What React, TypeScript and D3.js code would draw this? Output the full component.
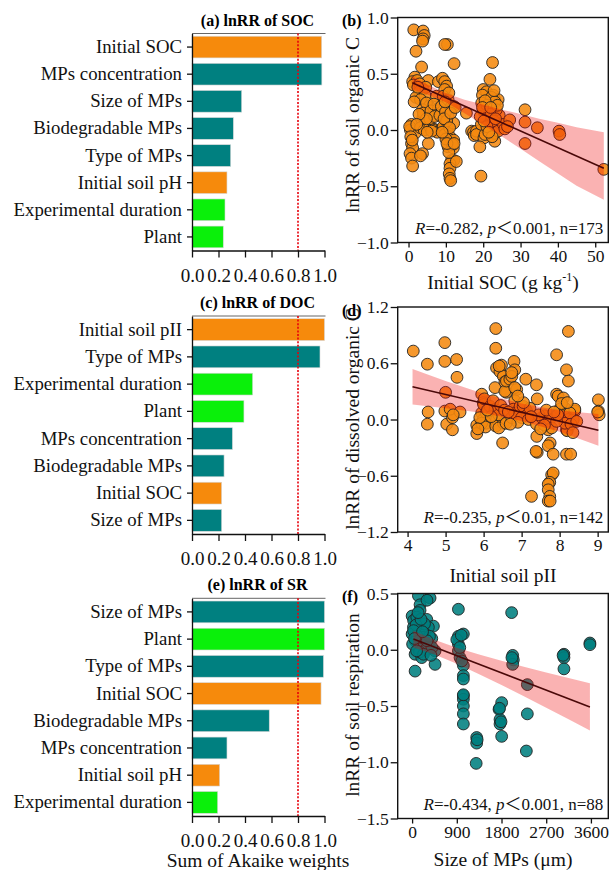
import React, { useEffect, useRef } from "react";
import * as d3 from "d3";

// ---- (a) (c) (e): sum of Akaike weights per factor ----
const socFactors = ["Initial SOC", "MPs concentration", "Size of MPs", "Biodegradable MPs", "Type of MPs", "Initial soil pH", "Experimental duration", "Plant"];
const socWeights = [0.979, 0.98, 0.375, 0.312, 0.292, 0.264, 0.249, 0.236];

const docFactors = ["Initial soil pII", "Type of MPs", "Experimental duration", "Plant", "MPs concentration", "Biodegradable MPs", "Initial SOC", "Size of MPs"];
const docWeights = [1.0, 0.966, 0.458, 0.392, 0.305, 0.242, 0.224, 0.224];

const srFactors = ["Size of MPs", "Plant", "Type of MPs", "Initial SOC", "Biodegradable MPs", "MPs concentration", "Initial soil pH", "Experimental duration"];
const srWeights = [1.0, 1.0, 0.992, 0.974, 0.583, 0.264, 0.209, 0.194];

const weightTicks = [0, 0.2, 0.4, 0.6, 0.8, 1.0];

// ---- (b) lnRR of SOC vs initial SOC (g/kg) ----
const socPoints: [number, number][] = [
  [1.4, 0.89], [3.9, 0.88], [4.2, 0.84], [3.9, 0.81], [3.75, 0.79], [2.0, 0.7], [3.5, 0.56],
  [1.7, 0.47], [1.1, 0.43], [2.3, 0.44], [5.3, 0.44], [1.3, 0.4], [3.0, 0.41], [3.9, 0.36], [2.9, 0.34], [4.6, 0.38],
  [2.0, 0.29], [4.4, 0.31], [3.2, 0.27], [5.5, 0.21], [3.75, 0.18], [4.8, 0.24], [3.9, 0.12], [3.5, 0.08], [4.4, 0.06], [4.0, 0.15],
  [0.8, 0.05], [0.5, 0.0], [1.7, -0.03], [0.3, 0.03], [3.2, 0.02], [4.2, 0.0],
  [0.8, -0.12], [1.1, -0.16], [0.4, -0.21], [0.8, -0.25], [1.1, -0.32], [3.75, -0.21], [3.2, -0.23], [5.3, -0.12], [0.6, -0.06],
  [5.7, 0.03], [6.6, 0.01], [7.3, 0.0], [5.7, 0.1], [6.0, 0.17], [8.0, 0.43], [7.5, 0.3], [8.0, 0.19], [7.0, 0.12], [8.4, 0.13],
  [8.4, 0.0], [6.8, 0.23], [7.7, -0.02], [8.8, 0.21], [6.2, -0.01],
  [10.4, 0.76], [9.7, 0.76], [12.2, 0.59], [9.1, 0.46], [9.7, 0.43], [10.2, 0.39], [9.7, 0.36], [9.3, 0.3], [10.6, 0.27], [11.5, 0.21],
  [12.1, 0.21], [10.6, 0.12], [9.9, 0.16], [10.4, 0.04], [10.4, 0.0], [9.3, 0.03], [9.7, -0.04], [11.1, -0.06], [12.1, 0.06], [11.5, -0.1],
  [12.1, -0.09], [10.6, -0.15], [12.0, -0.16], [11.8, -0.13], [11.5, -0.27], [12.1, -0.27], [11.1, -0.3], [11.1, -0.34], [10.9, -0.39],
  [11.1, -0.43], [11.3, -0.45], [10.2, 0.08], [10.8, 0.33], [9.5, 0.1], [11.0, 0.02], [10.0, -0.08], [10.8, -0.2],
  [15.5, 0.15], [16.9, -0.01], [17.4, -0.02], [17.6, -0.05],
  [22.5, 0.6], [21.8, 0.45], [20.0, 0.36], [20.9, 0.34], [22.7, 0.31], [19.8, 0.31], [23.1, 0.27], [24.0, 0.27], [19.6, 0.24], [22.2, 0.29],
  [23.1, 0.25], [21.3, 0.19], [20.2, 0.16], [22.5, 0.16], [23.1, 0.13], [24.3, 0.13], [20.0, 0.18], [21.3, 0.12], [20.9, 0.1], [22.2, 0.09],
  [23.6, 0.06], [21.6, 0.05], [19.6, 0.01], [22.7, 0.01], [18.2, -0.01], [18.2, -0.04], [20.2, -0.07], [23.1, -0.1], [19.1, -0.15],
  [19.4, -0.41], [19.5, 0.05], [21.0, 0.22], [24.5, 0.05], [23.5, 0.18], [22.0, 0.0], [23.0, -0.03], [20.5, -0.04], [21.8, 0.14],
  [22.8, 0.08], [19.2, 0.12], [24.0, -0.01], [21.0, 0.03], [20.5, 0.26], [23.8, 0.22], [22.4, -0.06],
  [25.4, 0.05], [25.8, 0.01], [27.1, 0.09], [26.5, 0.03], [31.2, 0.18], [31.2, 0.07], [31.2, -0.12], [34.5, 0.02], [40.3, -0.01],
  [40.5, -0.04], [52.3, -0.35],
  [2.5, 0.38], [1.5, 0.25], [4.8, 0.1], [2.8, 0.14], [5.0, -0.02], [1.0, -0.09], [2.2, 0.05],
  [9.8, 0.25], [11.3, 0.15], [10.3, -0.12], [12.5, 0.2], [12.2, -0.12], [12.8, -0.28], [9.0, -0.02],
  [19.8, 0.2], [22.0, 0.2], [23.3, 0.1], [21.5, -0.02], [20.2, 0.08], [22.9, 0.35],
];
const socLine: [number, number][] = [[1, 0.42], [52.3, -0.34]];
const socBandX = [1, 5, 10, 15, 20, 25, 30, 35, 40, 45, 52.3];
const socBandLo = [0.36, 0.315, 0.246, 0.15, 0.047, -0.058, -0.167, -0.277, -0.386, -0.496, -0.62];
const socBandHi = [0.48, 0.405, 0.326, 0.27, 0.227, 0.18, 0.143, 0.1, 0.064, 0.024, -0.02];

// ---- (d) lnRR of DOC vs initial soil pH ----
const docPoints: [number, number][] = [
  [4.15, 0.73], [4.52, 0.59], [4.54, 0.08], [4.52, -0.05], [4.98, 0.82], [4.98, 0.62], [5.29, 0.64], [5.3, 0.45], [5.0, 0.29],
  [4.98, 0.09], [5.03, -0.05], [5.18, -0.11], [5.18, 0.02], [5.12, 0.11], [5.38, 0.08], [5.2, 0.05],
  [5.82, -0.06], [5.82, -0.15], [5.95, 0.27], [5.99, 0.18], [5.95, 0.07], [5.99, 0.0], [6.0, 0.16], [6.07, 0.07], [6.07, -0.04],
  [5.95, -0.04], [6.02, 0.22], [6.05, -0.08], [5.9, 0.02],
  [6.32, 0.97], [6.32, 0.76], [6.34, 0.55], [6.43, 0.51], [6.47, 0.58], [6.52, 0.46], [6.41, 0.57], [6.3, 0.34], [6.56, 0.4],
  [6.6, 0.29], [6.56, 0.3], [6.6, 0.41], [6.17, 0.14], [6.3, 0.09], [6.34, 0.0], [6.32, -0.07], [6.52, -0.04], [6.5, -0.25],
  [6.3, 0.11], [6.4, 0.05], [6.4, -0.09], [6.59, -0.04], [6.25, 0.2], [6.45, 0.15], [6.2, 0.03], [6.55, 0.1],
  [6.69, 0.43], [6.8, 0.62], [6.82, 0.53], [6.74, 0.46], [6.74, 0.5], [6.87, 0.32], [6.82, 0.34], [6.82, 0.2], [6.78, 0.11],
  [6.74, 0.02], [6.82, 0.07], [6.96, 0.14], [7.09, 0.12], [7.13, 0.09], [7.04, 0.14], [7.15, 0.05], [7.22, 0.12], [7.11, 0.43],
  [7.0, 0.02], [6.9, -0.03], [7.05, 0.18], [6.7, -0.05], [7.18, 0.0],
  [7.39, 0.37], [7.41, 0.22], [7.39, -0.05], [7.4, -0.18], [7.41, -0.35], [7.38, -0.34], [7.26, -0.82], [7.53, 0.02], [7.61, 0.04],
  [7.74, 0.0], [7.7, -0.11], [7.75, -0.25], [7.7, -0.28], [7.83, -0.37], [7.79, -0.59], [7.83, -0.57], [7.74, -0.67], [7.7, -0.69],
  [7.7, -0.75], [7.74, -0.82], [7.7, -0.87], [7.75, -0.87], [7.79, -0.09], [7.6, -0.06], [7.45, 0.05], [7.65, 0.1], [7.5, -0.1],
  [7.92, 0.69], [8.23, 0.94], [8.18, 0.53], [8.23, 0.41], [7.92, 0.27], [7.96, 0.25], [8.1, 0.23], [8.14, 0.12], [8.0, 0.11],
  [8.1, 0.04], [8.23, 0.0], [8.4, 0.09], [8.36, 0.0], [8.4, 0.11], [8.18, -0.11], [8.2, -0.12], [8.14, -0.04], [8.18, -0.37],
  [8.29, -0.37], [8.27, 0.07], [7.92, -0.02], [8.3, -0.05], [8.05, 0.17], [8.35, -0.14], [7.95, 0.05], [8.2, 0.18],
  [9.02, 0.21], [9.02, 0.09], [9.04, 0.05], [9.0, 0.08],
  [6.1, 0.1], [6.65, 0.08], [7.25, 0.03], [7.85, 0.08], [6.9, 0.25], [5.85, -0.1], [8.45, -0.02],
];
const docLine: [number, number][] = [[4.13, 0.35], [9.02, -0.115]];
const docBandX = [4.13, 5, 6, 7, 8, 9.02];
const docBandLo = [0.16, 0.12, 0.07, -0.015, -0.13, -0.28];
const docBandHi = [0.54, 0.41, 0.275, 0.17, 0.095, 0.06];

// ---- (f) lnRR of soil respiration vs MP size (um) ----
const srPoints: [number, number][] = [
  [127, 0.48], [362, 0.46], [160, 0.4], [300, 0.44], [0, 0.3], [30, 0.26], [160, 0.35], [94, 0.29], [295, 0.27], [429, 0.21],
  [27, 0.2], [194, 0.2], [328, 0.2], [0, 0.14], [127, 0.15], [261, 0.14], [396, 0.1], [60, 0.08], [194, 0.08], [127, 0.01],
  [328, 0.04], [462, -0.01], [462, -0.13], [60, -0.04], [194, -0.07], [60, -0.19], [250, 0.23], [80, 0.22], [220, 0.11], [10, 0.05],
  [350, 0.12], [100, 0.12], [270, 0.0], [150, -0.02], [400, 0.02], [30, 0.17], [180, 0.27], [300, 0.08], [230, -0.04], [90, -0.01],
  [932, 0.36], [932, 0.12], [1032, 0.14], [932, 0.05], [932, -0.01], [965, -0.07], [1032, -0.14], [1032, -0.23], [1032, -0.26],
  [1032, -0.41], [1032, -0.44], [1032, -0.5], [1032, -0.57], [1032, -0.66], [900, 0.09], [960, 0.02], [1000, -0.1], [1032, -0.4], [990, 0.13],
  [1300, -0.78], [1300, -0.83], [1290, -1.01], [1310, -0.8],
  [1803, -0.47], [1750, -0.53], [1770, -0.62], [1770, -0.66], [1803, -0.77], [1790, -0.64], [1760, -0.52],
  [2004, 0.33], [2025, -0.05], [2038, -0.09], [2025, -0.13], [2010, -0.07],
  [2320, -0.31], [2320, -0.57], [2300, -0.9],
  [3057, -0.04], [3057, -0.07], [3057, -0.17], [3040, -0.05],
  [3580, 0.06], [3580, 0.045],
  [50, 0.1], [210, 0.16], [380, -0.05], [120, 0.33],
];
const srLine: [number, number][] = [[26, 0.095], [3580, -0.508]];
const srBandX = [26, 450, 900, 1350, 1800, 2250, 2700, 3150, 3580];
const srBandLo = [0.02, -0.042, -0.124, -0.217, -0.314, -0.414, -0.516, -0.618, -0.718];
const srBandHi = [0.17, 0.088, 0.018, -0.043, -0.098, -0.15, -0.202, -0.252, -0.298];

const FONT = "'Liberation Serif', 'Times New Roman', serif";
const ORANGE = "#F68A0C";
const TEAL = "#008080";
const GREEN = "#0AF00A";

const factorColor = (name: string) => {
  if (name.startsWith("Initial")) return ORANGE;
  if (name === "Plant" || name.startsWith("Experimental")) return GREEN;
  return TEAL;
};

const drawBars = (svg: any, factors: string[], weights: number[], title: string, top: number, bottom: number) => {
  const left = 192;
  const right = 324.5;
  const x = d3.scaleLinear().domain([0, 1]).range([left, right]);
  const y = d3.scaleBand().domain(factors).range([top, bottom]).paddingInner(0.2).paddingOuter(0.1);
  const g = svg.append("g");

  g.selectAll("rect")
    .data(factors)
    .enter()
    .append("rect")
    .attr("x", x(0))
    .attr("y", (d: string) => y(d))
    .attr("width", (_: string, i: number) => x(weights[i]) - x(0))
    .attr("height", y.bandwidth())
    .attr("fill", (d: string) => factorColor(d))
    .attr("stroke", "#d8d8d8")
    .attr("stroke-width", 0.6);

  g.append("line")
    .attr("x1", left)
    .attr("x2", right + 1)
    .attr("y1", top)
    .attr("y2", top)
    .attr("stroke", "#666")
    .attr("stroke-width", 1);

  g.append("line")
    .attr("x1", x(0.8))
    .attr("x2", x(0.8))
    .attr("y1", top)
    .attr("y2", bottom)
    .attr("stroke", "#e8000b")
    .attr("stroke-width", 1.6)
    .attr("stroke-dasharray", "2,1.6");

  const ya = g
    .append("g")
    .attr("transform", `translate(${left},0)`)
    .call(d3.axisLeft(y).tickSize(5).tickPadding(5).tickSizeOuter(0));
  ya.attr("font-family", FONT).attr("font-size", 18.8);
  ya.selectAll("text").attr("fill", "#111");
  ya.selectAll("path, line").attr("stroke", "#111").attr("stroke-width", 1.3);

  const xa = g
    .append("g")
    .attr("transform", `translate(0,${bottom})`)
    .call(
      d3.axisBottom(x).tickValues(weightTicks).tickFormat(d3.format(".1f")).tickSize(7).tickPadding(11).tickSizeOuter(0)
    );
  xa.attr("font-family", FONT).attr("font-size", 19);
  xa.selectAll("text").attr("fill", "#111");
  xa.selectAll("path, line").attr("stroke", "#111").attr("stroke-width", 1.3);

  g.append("text")
    .attr("x", 257.5)
    .attr("y", top - 8)
    .attr("text-anchor", "middle")
    .attr("font-family", FONT)
    .attr("font-weight", "bold")
    .attr("font-size", 16)
    .text(title);
};

const drawScatter = (svg: any, cfg: any) => {
  const left = 397.7;
  const right = 608.3;
  const { top, bottom } = cfg;
  const x = d3.scaleLinear().domain(cfg.xDomain).range([left, right]);
  const y = d3.scaleLinear().domain(cfg.yDomain).range([bottom, top]);
  const g = svg.append("g");

  const clipId = `clip-${cfg.letter}`;
  g.append("clipPath")
    .attr("id", clipId)
    .append("rect")
    .attr("x", left)
    .attr("y", top)
    .attr("width", right - left)
    .attr("height", bottom - top);

  const inner = g.append("g").attr("clip-path", `url(#${clipId})`);

  inner
    .selectAll("circle")
    .data(cfg.points)
    .enter()
    .append("circle")
    .attr("cx", (d: [number, number]) => x(d[0]))
    .attr("cy", (d: [number, number]) => y(d[1]))
    .attr("r", 5.9)
    .attr("fill", cfg.fill)
    .attr("fill-opacity", 0.88)
    .attr("stroke", "#222")
    .attr("stroke-width", 0.9);

  const area = d3
    .area()
    .x((d: any) => x(d))
    .y0((_: any, i: number) => y(cfg.bandLo[i]))
    .y1((_: any, i: number) => y(cfg.bandHi[i]));
  inner.append("path").attr("d", area(cfg.bandX)).attr("fill", "#f00000").attr("fill-opacity", 0.3);

  const line = d3
    .line()
    .x((d: any) => x(d[0]))
    .y((d: any) => y(d[1]));
  inner.append("path").attr("d", line(cfg.line)).attr("fill", "none").attr("stroke", "#4a0808").attr("stroke-width", 1.6);

  g.append("rect")
    .attr("x", left)
    .attr("y", top)
    .attr("width", right - left)
    .attr("height", bottom - top)
    .attr("fill", "none")
    .attr("stroke", "#111")
    .attr("stroke-width", 1.4);

  const ya = g
    .append("g")
    .attr("transform", `translate(${left},0)`)
    .call(d3.axisLeft(y).tickValues(cfg.yTicks).tickFormat(d3.format(".1f")).tickSize(7).tickPadding(2).tickSizeOuter(0));
  ya.select(".domain").remove();
  ya.attr("font-family", FONT).attr("font-size", 17.5);
  ya.selectAll("text").attr("fill", "#111");
  ya.selectAll("line").attr("stroke", "#111").attr("stroke-width", 1.3);

  const xa = g
    .append("g")
    .attr("transform", `translate(0,${bottom})`)
    .call(d3.axisBottom(x).tickValues(cfg.xTicks).tickFormat(d3.format("d")).tickSize(5).tickPadding(2).tickSizeOuter(0));
  xa.select(".domain").remove();
  xa.attr("font-family", FONT).attr("font-size", 17.5);
  xa.selectAll("text").attr("fill", "#111");
  xa.selectAll("line").attr("stroke", "#111").attr("stroke-width", 1.3);

  g.append("text")
    .attr("x", 342)
    .attr("y", top + 8.5)
    .attr("font-family", FONT)
    .attr("font-weight", "bold")
    .attr("font-size", 16)
    .text(`(${cfg.letter})`);

  g.append("text")
    .attr("transform", `translate(359,${cfg.yLabelCenter}) rotate(-90)`)
    .attr("text-anchor", "middle")
    .attr("font-family", FONT)
    .attr("font-size", 19.5)
    .attr("fill", "#111")
    .text(cfg.yLabel);

  const xl = g
    .append("text")
    .attr("x", (left + right) / 2)
    .attr("y", cfg.xLabelY)
    .attr("text-anchor", "middle")
    .attr("font-family", FONT)
    .attr("font-size", 19.5)
    .attr("fill", "#111");
  cfg.xLabel(xl);

  const note = g
    .append("text")
    .attr("x", right - 5)
    .attr("y", bottom - 9)
    .attr("text-anchor", "end")
    .attr("font-family", `${FONT}, 'Noto Sans CJK SC'`)
    .attr("font-size", 17)
    .attr("fill", "#111");
  note.append("tspan").attr("font-style", "italic").text("R");
  note.append("tspan").text(`=${cfg.r}, `);
  note.append("tspan").attr("font-style", "italic").text("p");
  note.append("tspan").text(`＜${cfg.p}, n=${cfg.points.length}`);
};

const App: React.FC = () => {
  const svgRef = useRef(null);

  useEffect(() => {
    const svg = d3.select(svgRef.current).style("font", `10px ${FONT}`);

    drawBars(svg, socFactors, socWeights, "(a) lnRR of SOC", 33.5, 250.5);
    drawBars(svg, docFactors, docWeights, "(c) lnRR of DOC", 316, 534);
    drawBars(svg, srFactors, srWeights, "(e) lnRR of SR", 598.3, 816);

    svg
      .append("text")
      .attr("x", 258)
      .attr("y", 867)
      .attr("text-anchor", "middle")
      .attr("font-family", FONT)
      .attr("font-size", 19.5)
      .attr("fill", "#111")
      .text("Sum of Akaike weights");

    drawScatter(svg, {
      letter: "b",
      points: socPoints,
      top: 17.5,
      bottom: 242.5,
      xDomain: [-2.9, 53.5],
      yDomain: [-1, 1],
      xTicks: [0, 10, 20, 30, 40, 50],
      yTicks: [1, 0.5, 0, -0.5, -1],
      fill: "#F58A10",
      line: socLine,
      bandX: socBandX,
      bandLo: socBandLo,
      bandHi: socBandHi,
      yLabel: "lnRR of soil organic C",
      yLabelCenter: 125,
      xLabelY: 289,
      xLabel: (t: any) => {
        t.append("tspan").text("Initial SOC (g kg");
        t.append("tspan").attr("font-size", 12).attr("dy", -8).text("-1");
        t.append("tspan").attr("dy", 8).text(")");
      },
      r: "-0.282",
      p: "0.001",
    });

    drawScatter(svg, {
      letter: "d",
      points: docPoints,
      top: 307,
      bottom: 532,
      xDomain: [3.74, 9.28],
      yDomain: [-1.2, 1.2],
      xTicks: [4, 5, 6, 7, 8, 9],
      yTicks: [1.2, 0.6, 0, -0.6, -1.2],
      fill: "#F58A10",
      line: docLine,
      bandX: docBandX,
      bandLo: docBandLo,
      bandHi: docBandHi,
      yLabel: "lnRR of dissolved organic C",
      yLabelCenter: 419,
      xLabelY: 582,
      xLabel: (t: any) => t.text("Initial soil pII"),
      r: "-0.235",
      p: "0.01",
    });

    drawScatter(svg, {
      letter: "f",
      points: srPoints,
      top: 593.5,
      bottom: 818.5,
      xDomain: [-290, 3950],
      yDomain: [-1.5, 0.5],
      xTicks: [0, 900, 1800, 2700, 3600],
      yTicks: [0.5, 0, -0.5, -1, -1.5],
      fill: TEAL,
      line: srLine,
      bandX: srBandX,
      bandLo: srBandLo,
      bandHi: srBandHi,
      yLabel: "lnRR of soil respiration",
      yLabelCenter: 705,
      xLabelY: 866,
      xLabel: (t: any) => t.text("Size of MPs (μm)"),
      r: "-0.434",
      p: "0.001",
    });

    return () => {
      svg.selectAll("*").remove();
    };
  }, []);

  return (
    <svg
      ref={svgRef}
      width={616}
      height={870}
      viewBox="0 0 616 870"
      style={{ position: "absolute", left: 0, top: 0, background: "white" }}
    />
  );
};

export default App;
